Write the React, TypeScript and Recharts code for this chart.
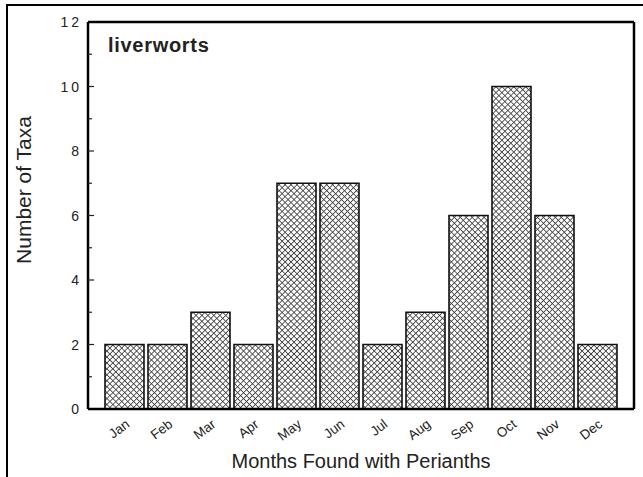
import React from "react"
import { BarChart, Bar, XAxis, YAxis } from "recharts"

const months = ["Jan", "Feb", "Mar", "Apr", "May", "Jun", "Jul", "Aug", "Sep", "Oct", "Nov", "Dec"]
const taxaCounts = [2, 2, 3, 2, 7, 7, 2, 3, 6, 10, 6, 2]
const yTicks = [0, 1, 2, 3, 4, 5, 6, 7, 8, 9, 10, 11, 12]

const data = months.map((m, i) => ({ month: m, taxa: taxaCounts[i] }))

const FONT = "'Liberation Sans', Arial, sans-serif"

function YTick(props: any) {
  const { x, y, payload } = props
  const v = payload.value
  const major = v % 2 === 0
  return (
    <g>
      {major && (
        <text x={x + 2} y={y} dy={5} textAnchor="end" fontSize={14} fill="#222" fontFamily={FONT} letterSpacing={3}>
          {v}
        </text>
      )}
      {v !== 0 && v !== 12 && <line x1={x + 8} x2={x + 8 + (major ? 6 : 4)} y1={y} y2={y} stroke="#222" strokeWidth={1.2} />}
    </g>
  )
}

function XTick(props: any) {
  const { x, y, payload } = props
  const tx = x + 6
  const ty = y + 9
  return (
    <text x={tx} y={ty} textAnchor="end" fontSize={13.5} fill="#222" fontFamily={FONT} transform={`rotate(-37 ${tx} ${ty})`}>
      {payload.value}
    </text>
  )
}

export default function App() {
  return (
    <div style={{ position: "absolute", left: 0, top: 0, width: 643, height: 477, background: "#fff", overflow: "hidden" }}>
      <div
        style={{
          position: "absolute",
          left: 6,
          top: 4,
          width: 640,
          height: 480,
          borderTop: "2px solid #000",
          borderLeft: "2px solid #000",
        }}
      />
      <BarChart
        width={643}
        height={477}
        data={data}
        margin={{ top: 21, right: 8, left: 0, bottom: 0 }}
        barCategoryGap={2}
        style={{ position: "absolute", left: 0, top: 0 }}
      >
        <defs>
          <pattern id="hatch" width={4.2} height={4.2} patternUnits="userSpaceOnUse" patternTransform="rotate(45)">
            <rect width={4.2} height={4.2} fill="#fff" />
            <line x1={0} y1={0} x2={0} y2={4.2} stroke="#3a3a3a" strokeWidth={1.6} />
            <line x1={0} y1={0} x2={4.2} y2={0} stroke="#3a3a3a" strokeWidth={1.6} />
          </pattern>
        </defs>
        <XAxis
          dataKey="month"
          xAxisId="bottom"
          height={68}
          padding={{ left: 15, right: 15 }}
          tickLine={false}
          axisLine={{ stroke: "#000", strokeWidth: 2.5 }}
          tick={<XTick />}
          interval={0}
          label={{ value: "Months Found with Perianths", position: "insideBottom", offset: 9, fontSize: 20, fill: "#222", fontFamily: FONT }}
        />
        <XAxis
          dataKey="month"
          xAxisId="top"
          orientation="top"
          height={1}
          tick={false}
          tickLine={false}
          axisLine={{ stroke: "#000", strokeWidth: 2.5 }}
        />
        <YAxis
          yAxisId="left"
          width={88}
          domain={[0, 12]}
          ticks={yTicks}
          interval={0}
          tickLine={false}
          tickSize={0}
          tickMargin={8}
          axisLine={{ stroke: "#000", strokeWidth: 2.5 }}
          tick={<YTick />}
        />
        <YAxis
          yAxisId="right"
          orientation="right"
          width={1}
          domain={[0, 12]}
          tick={false}
          tickLine={false}
          axisLine={{ stroke: "#000", strokeWidth: 2.5 }}
        />
        <Bar
          dataKey="taxa"
          xAxisId="bottom"
          yAxisId="left"
          fill="url(#hatch)"
          stroke="#111"
          strokeWidth={1.6}
          isAnimationActive={false}
        />
      </BarChart>
      <svg width={60} height={477} style={{ position: "absolute", left: 0, top: 0 }}>
        <text
          x={0}
          y={0}
          transform="translate(31 190) rotate(-90)"
          textAnchor="middle"
          fontSize={21}
          fill="#222"
          fontFamily={FONT}
        >
          Number of Taxa
        </text>
      </svg>
      <div
        style={{
          position: "absolute",
          left: 108,
          top: 34,
          fontFamily: FONT,
          fontWeight: "bold",
          fontSize: 20,
          letterSpacing: 0.7,
          lineHeight: "22px",
          color: "#222",
        }}
      >
        liverworts
      </div>
    </div>
  )
}
